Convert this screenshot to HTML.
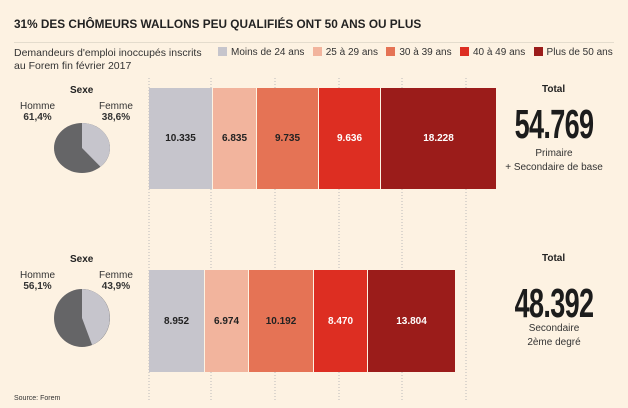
<!DOCTYPE html>
<html><head><meta charset="utf-8"><style>
body{margin:0;width:628px;height:408px;background:#fdf2e2;font-family:"Liberation Sans",sans-serif;position:relative;overflow:hidden;color:#222}
.a{position:absolute;white-space:nowrap}
.seg{position:absolute;display:flex;align-items:center;justify-content:center;font-size:10px;font-weight:bold;border-right:1px solid #fdf2e2;box-sizing:border-box}
.big{position:absolute;font-weight:bold;transform:scaleX(0.66);transform-origin:center top;letter-spacing:-1px;color:#1c1c1c;text-align:center;width:160px;line-height:1}
.c{text-align:center;font-size:10px;color:#333}
.lg{display:inline-block;width:9px;height:9px;margin-right:4px;vertical-align:-1px}
</style></head><body>
<div class="a" style="left:14px;top:17px;font-size:11.8px;font-weight:bold;color:#222">31% DES CHÔMEURS WALLONS PEU QUALIFIÉS ONT 50 ANS OU PLUS</div>
<div class="a" style="left:14px;top:42px;width:600px;height:1px;background:#e4dccd"></div>
<div class="a" style="left:14px;top:47px;font-size:10.5px;color:#333;line-height:13px">Demandeurs d'emploi inoccupés inscrits<br>au Forem fin février 2017</div>
<div class="a" style="left:218px;top:47px;font-size:10px;color:#333">
<span class="lg" style="background:#c6c5cc"></span>Moins de 24 ans&nbsp;&nbsp;
<span class="lg" style="background:#f2b49d"></span>25 à 29 ans&nbsp;&nbsp;
<span class="lg" style="background:#e57355"></span>30 à 39 ans&nbsp;&nbsp;
<span class="lg" style="background:#dd2e22"></span>40 à 49 ans&nbsp;&nbsp;
<span class="lg" style="background:#9b1c1a"></span>Plus de 50 ans</div>
<svg class="a" style="left:0;top:0" width="628" height="408">
<g stroke="#bbb" stroke-width="1" stroke-dasharray="1,2">
<line x1="149" y1="78" x2="149" y2="400"/><line x1="211" y1="78" x2="211" y2="400"/><line x1="275" y1="78" x2="275" y2="400"/><line x1="339" y1="78" x2="339" y2="400"/><line x1="402" y1="78" x2="402" y2="400"/><line x1="466" y1="78" x2="466" y2="400"/>
</g>
<g transform="translate(82,148) scale(28,25)">
<circle r="1" fill="#656567"/>
<path d="M0,0 L0,-1 A1,1 0 0 1 0.66,0.75 Z" fill="#c6c5cc"/>
</g>
<g transform="translate(82,318) scale(28,29)">
<circle r="1" fill="#656567"/>
<path d="M0,0 L0,-1 A1,1 0 0 1 0.36,0.93 Z" fill="#c6c5cc"/>
</g>
</svg>
<div class="a" style="left:70px;top:85px;font-size:10px;font-weight:bold">Sexe</div>
<div class="a c" style="left:20px;top:101px;line-height:11px">Homme<br><b>61,4%</b></div>
<div class="a c" style="left:99px;top:101px;line-height:11px">Femme<br><b>38,6%</b></div>
<div class="a" style="left:70px;top:254px;font-size:10px;font-weight:bold">Sexe</div>
<div class="a c" style="left:20px;top:270px;line-height:11px">Homme<br><b>56,1%</b></div>
<div class="a c" style="left:99px;top:270px;line-height:11px">Femme<br><b>43,9%</b></div>

<div class="seg" style="left:149px;top:88px;width:64px;height:101px;background:#c6c5cc">10.335</div>
<div class="seg" style="left:213px;top:88px;width:44px;height:101px;background:#f2b49d">6.835</div>
<div class="seg" style="left:257px;top:88px;width:62px;height:101px;background:#e57355">9.735</div>
<div class="seg" style="left:319px;top:88px;width:62px;height:101px;background:#dd2e22;color:#fff">9.636</div>
<div class="seg" style="left:381px;top:88px;width:115px;height:101px;background:#9b1c1a;color:#fff;border:0">18.228</div>

<div class="seg" style="left:149px;top:270px;width:56px;height:102px;background:#c6c5cc">8.952</div>
<div class="seg" style="left:205px;top:270px;width:44px;height:102px;background:#f2b49d">6.974</div>
<div class="seg" style="left:249px;top:270px;width:65px;height:102px;background:#e57355">10.192</div>
<div class="seg" style="left:314px;top:270px;width:54px;height:102px;background:#dd2e22;color:#fff">8.470</div>
<div class="seg" style="left:368px;top:270px;width:87px;height:102px;background:#9b1c1a;color:#fff;border:0">13.804</div>

<div class="a" style="left:542px;top:84px;font-size:10px;font-weight:bold">Total</div>
<div class="big" style="left:474px;top:104px;font-size:41px">54.769</div>
<div class="a c" style="left:494px;top:147px;width:120px;line-height:14px">Primaire<br>+ Secondaire de base</div>
<div class="a" style="left:542px;top:253px;font-size:10px;font-weight:bold">Total</div>
<div class="big" style="left:474px;top:283px;font-size:41px">48.392</div>
<div class="a c" style="left:494px;top:322px;width:120px;line-height:14px">Secondaire<br>2ème degré</div>
<div class="a" style="left:14px;top:395px;font-size:7px;color:#333">Source: Forem</div>
</body></html>
